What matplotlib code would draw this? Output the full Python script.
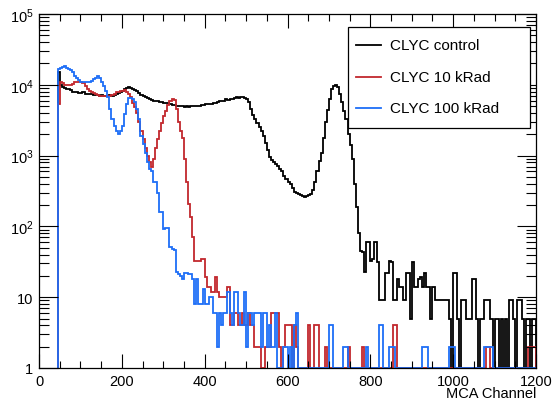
import numpy as np
import matplotlib
matplotlib.use("Agg")
import matplotlib.pyplot as plt
from matplotlib.patches import Rectangle
from matplotlib.lines import Line2D
from matplotlib.ticker import FixedLocator, LogLocator, MultipleLocator, FuncFormatter

plt.rcParams['font.family'] = ['Liberation Sans', 'DejaVu Sans']
plt.rcParams['mathtext.fontset'] = 'custom'
plt.rcParams['mathtext.rm'] = 'Liberation Sans'
plt.rcParams['mathtext.it'] = 'Liberation Sans'

# ---- data: histogram bins (channel 45 .. 1200, width 5) ----
bin_lo = 45
bin_width = 5

control = [
    15000, 9800, 9400, 9000, 8700, 8700, 8500, 8000, 7800, 7800,
    7700, 7600, 7800, 7500, 7400, 7300, 7400, 7200, 7100, 7200,
    7000, 7100, 7000, 6900, 7000, 7100, 7000, 7200, 7300, 7600,
    7800, 8200, 8700, 9000, 9300, 9000, 8800, 8500, 8200, 7600,
    7200, 6900, 6700, 6500, 6300, 6100, 6000, 5900, 5900, 5800,
    5700, 5600, 5500, 5500, 5300, 5200, 5200, 5100, 5000, 5000,
    5000, 4900, 5000, 4900, 5000, 5100, 5000, 5000, 5100, 5200,
    5200, 5300, 5300, 5400, 5400, 5500, 5600, 5700, 5900, 6000,
    6000, 6200, 6100, 6300, 6400, 6500, 6700, 6600, 6800, 6700,
    6600, 6300, 5700, 4500, 3800, 3300, 2900, 2500, 2200, 1900,
    1500, 1200, 960, 880, 800, 760, 710, 650, 600, 510,
    460, 420, 400, 350, 310, 300, 290, 280, 270, 260,
    270, 280, 290, 330, 420, 600, 850, 1100, 1800, 3000,
    4400, 6300, 8700, 9500, 9800, 9300, 7500, 5700, 4300, 3300,
    2000, 1400, 900, 400, 190, 80, 45, 43, 23, 60,
    60, 32, 35, 60, 31, 9, 9, 9, 22, 22,
    32, 31, 9, 9, 18, 14, 14, 9, 22, 22,
    5, 31, 14, 14, 18, 19, 14, 22, 14, 14,
    5, 14, 9, 9, 9, 9, 9, 9, 9, 5,
    1, 22, 22, 5, 1, 9, 9, 5, 5, 5,
    18, 18, 5, 1, 5, 5, 9, 9, 9, 5,
    1, 5, 5, 1, 5, 1, 5, 1, 9, 9,
    5, 1, 9, 9, 5, 1, 5, 5, 1, 5,
    5,
]

krad10 = [
    5300, 11000, 10500, 10000, 10000, 9800, 10000, 10200, 11000, 11000,
    11000, 10800, 10500, 9500, 8700, 8200, 7800, 7600, 7400, 7200,
    7000, 7000, 7000, 6900, 7000, 7000, 7200, 7500, 7800, 8000,
    8200, 8200, 8500, 8000, 7500, 6700, 5500, 4800, 4000, 3000,
    2200, 1700, 1300, 1000, 800, 700, 900, 1300, 1700, 2200,
    2900, 3600, 4300, 5200, 5900, 6200, 6100, 4500, 3000, 2200,
    1800, 900, 420, 207, 135, 70, 32, 32, 32, 35,
    35, 19, 14, 14, 12, 12, 19, 12, 10, 10,
    10, 10, 14, 4, 4, 6, 6, 4, 4, 6,
    4, 4, 6, 4, 4, 2, 2, 2, 1, 1,
    2, 2, 2, 6, 6, 6, 6, 2, 1, 2,
    4, 4, 4, 1, 4, 2, 1, 1, 1, 1,
    1, 4, 1, 1, 4, 4, 1, 1, 1, 2,
    1, 1, 1, 1, 1, 1, 1, 1, 1, 1,
    2, 1, 1, 1, 1, 1, 1, 2, 1, 1,
    1, 1, 1, 1, 1, 1, 1, 1, 1, 1,
    1, 1, 4, 4, 1, 1, 1, 1, 1, 1,
    1, 1, 1, 1, 1, 1, 1, 1, 1, 1,
    1, 1, 1, 1, 1, 1, 1, 1, 1, 1,
    1, 1, 1, 1, 1, 1, 1, 1, 1, 1,
    1, 1, 1, 1, 1, 1, 1, 2, 2, 1,
    1, 1, 1, 1, 1, 1, 1, 1, 1, 1,
    1, 1, 1, 1, 1, 1, 1, 2, 2, 2,
    2,
]

krad100 = [
    16600, 17500, 18000, 18300, 17500, 16600, 16000, 15000, 13500, 12500,
    11800, 11000, 10800, 10800, 10800, 11000, 11500, 12000, 12500, 13300,
    12500, 11000, 9500, 8200, 6700, 4500, 3300, 2600, 2200, 2000,
    2200, 2600, 3900, 5300, 6500, 6500, 6300, 5700, 4600, 3300,
    1900, 1450, 1100, 800, 650, 600, 430, 420, 300, 160,
    160, 92, 95, 95, 51, 48, 46, 23, 21, 20,
    18, 22, 22, 21, 21, 18, 8, 18, 8, 8,
    13, 8, 8, 10, 10, 6, 6, 2, 6, 4,
    6, 6, 12, 6, 4, 12, 12, 6, 4, 4,
    12, 2, 6, 6, 4, 6, 6, 6, 2, 6,
    6, 2, 4, 2, 2, 6, 1, 1, 1, 2,
    2, 1, 2, 1, 4, 6, 1, 1, 1, 1,
    1, 1, 1, 1, 1, 1, 1, 1, 1, 1,
    1, 4, 4, 1, 1, 1, 1, 1, 2, 2,
    1, 1, 1, 1, 1, 1, 1, 1, 1, 2,
    1, 1, 1, 1, 1, 4, 4, 1, 1, 1,
    2, 2, 2, 1, 1, 1, 1, 1, 1, 1,
    1, 1, 1, 1, 1, 1, 2, 2, 2, 1,
    1, 1, 1, 1, 1, 1, 1, 1, 1, 2,
    2, 2, 1, 1, 1, 1, 1, 1, 1, 1,
    1, 1, 1, 1, 1, 1, 2, 2, 2, 2,
    1, 1, 1, 1, 1, 1, 1, 1, 1, 1,
    1, 1, 1, 1, 1, 1, 1, 1, 1, 1,
    1,
]

series_labels = ["CLYC control", "CLYC 10 kRad", "CLYC 100 kRad"]
series_colors = ["#000000", "#c2272d", "#1e6ef7"]
x_ticks = [0, 200, 400, 600, 800, 1000, 1200]
y_ticks = [1, 10, 100, 1000, 10000, 100000]

edges = bin_lo + bin_width * np.arange(len(control) + 1)

W, H = 556, 402
AX_L, AX_R, AX_T, AX_B = 39, 536, 15, 369
fig = plt.figure(figsize=(W / 100, H / 100), dpi=100)
ax = fig.add_axes([AX_L / W, (H - AX_B) / H, (AX_R - AX_L) / W, (AX_B - AX_T) / H])

for vals, lab, col in zip([control, krad10, krad100], series_labels, series_colors):
    ax.stairs(vals, edges, baseline=1, color=col, lw=1.3, label=lab)

ax.set_yscale('log')
ax.set_xlim(0, 1200)
ax.set_ylim(1, 1e5)

ax.xaxis.set_major_locator(FixedLocator(x_ticks))
ax.xaxis.set_minor_locator(MultipleLocator(50))
ax.yaxis.set_major_locator(FixedLocator(y_ticks))
ax.yaxis.set_minor_locator(LogLocator(base=10, subs=np.arange(2, 10)))


def yfmt(v, pos):
    e = int(round(np.log10(v)))
    if e == 0:
        return "1"
    if e == 1:
        return "10"
    return r"$10^{%d}$" % e


ax.yaxis.set_major_formatter(FuncFormatter(yfmt))
ax.tick_params(axis='both', which='both', direction='in', top=True, right=True,
               labelsize=10.5, width=0.8, colors='black')
ax.tick_params(axis='x', which='major', length=10, pad=4)
ax.tick_params(axis='x', which='minor', length=5)
ax.tick_params(axis='y', which='major', length=14, pad=4)
ax.tick_params(axis='y', which='minor', length=7)
for s in ax.spines.values():
    s.set_linewidth(0.9)


def axc(px, py):
    return ((px - AX_L) / (AX_R - AX_L), (AX_B - py) / (AX_B - AX_T))


ax.text(*axc(536, 394), "MCA Channel", transform=ax.transAxes,
        ha='right', va='center', fontsize=10.5)

# legend box drawn ROOT-style
x0, y0 = axc(348, 129)
x1, y1 = axc(530, 28)
ax.add_patch(Rectangle((x0, y0), x1 - x0, y1 - y0, transform=ax.transAxes,
                       facecolor='white', edgecolor='black', lw=0.9, zorder=5))
for i, (lab, col) in enumerate(zip(series_labels, series_colors)):
    py = 46 + 31.5 * i
    lx0, ly = axc(356, py)
    lx1, _ = axc(381, py)
    ax.add_line(Line2D([lx0, lx1], [ly, ly], transform=ax.transAxes, color=col,
                       lw=1.3, zorder=6))
    tx, _ = axc(390, py)
    ax.text(tx, ly, lab, transform=ax.transAxes, ha='left', va='center',
            fontsize=11, zorder=6)

fig.savefig("out.png", dpi=100)
